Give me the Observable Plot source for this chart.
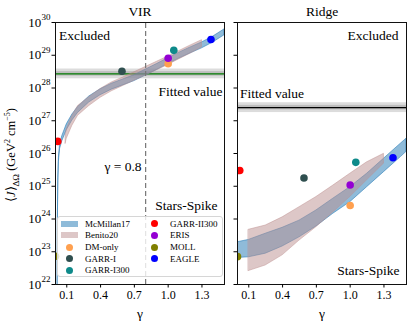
<!DOCTYPE html>
<html><head><meta charset="utf-8">
<script src="https://cdn.jsdelivr.net/npm/d3@7"></script>
<script src="https://cdn.jsdelivr.net/npm/@observablehq/plot@0.6"></script>
<style>
body{margin:0;background:#fff;overflow:hidden;}
#wrap{position:relative;width:413px;height:326px;font-family:"Liberation Serif",serif;color:#000;}
#wrap svg{position:absolute;top:0;font-family:"Liberation Serif",serif !important;}
#wrap svg text, #wrap svg g{font-family:"Liberation Serif",serif !important;}
.ylab{position:absolute;left:12px;top:155px;transform:translate(-50%,-50%) rotate(-90deg);white-space:nowrap;font-size:12.5px;}
.legend{position:absolute;left:57px;top:216px;width:166px;height:61px;border:1px solid #d6d6d6;border-radius:3px;background:rgba(255,255,255,0.8);font-size:9px;box-sizing:border-box;}
.legend .it{position:absolute;display:flex;align-items:center;height:10px;white-space:nowrap;}
.legend .patch{width:17px;height:6px;margin-right:7px;}
.legend .dot{width:7px;height:7px;border-radius:50%;margin:0 12px 0 5px;}
</style></head>
<body>
<div id="wrap"></div>
<script>
// ---------- data (log10 of <J> in GeV^2 cm^-5) ----------
const xDomain = [0, 1.5];
const yDomainExp = [22, 30];
const xTicks = [0.1, 0.4, 0.7, 1.0, 1.3];
const yTickExps = [22, 23, 24, 25, 26, 27, 28, 29, 30];
const panels = ["VIR", "Ridge"];

const fitVIR = 28.43, fitRidge = 27.40;
const fitInner = 0.07, fitOuter = 0.15;
const gammaCut = 0.8;

const bandNames = ["McMillan17", "Benito20"];
// VIR McMillan17
const mcmVIRgamma = [0.0175, 0.019, 0.021, 0.025, 0.03, 0.04, 0.06, 0.1, 0.15, 0.2, 0.3, 0.4, 0.5, 0.6, 0.7, 0.8, 0.9, 1.0, 1.1, 1.2, 1.3, 1.4, 1.5];
const mcmVIRmid   = [21.5, 22.3, 24.0, 25.2, 25.8, 26.2, 26.45, 26.8, 27.1, 27.33, 27.65, 27.87, 28.04, 28.17, 28.3, 28.47, 28.64, 28.82, 28.99, 29.15, 29.3, 29.48, 29.7];
const mcmVIRhalf  = [0.03, 0.03, 0.04, 0.05, 0.06, 0.07, 0.08, 0.09, 0.09, 0.09, 0.09, 0.09, 0.09, 0.09, 0.09, 0.09, 0.09, 0.09, 0.09, 0.09, 0.09, 0.09, 0.09];
// VIR Benito20
const benVIRgamma = [0.09, 0.1, 0.15, 0.2, 0.3, 0.4, 0.5, 0.6, 0.7, 0.8, 0.9, 1.0, 1.1, 1.2, 1.3];
const benVIRlo    = [26.3, 26.45, 26.85, 27.15, 27.45, 27.7, 27.9, 28.06, 28.22, 28.38, 28.54, 28.7, 28.88, 29.05, 29.24];
const benVIRhi    = [26.55, 26.75, 27.15, 27.45, 27.72, 27.97, 28.17, 28.32, 28.48, 28.64, 28.8, 28.96, 29.13, 29.3, 29.46];
// Ridge McMillan17
const mcmRidgeGamma = [0, 0.1, 0.25, 0.4, 0.55, 0.7, 0.85, 1.0, 1.15, 1.3, 1.45, 1.5];
const mcmRidgeLo    = [22.81, 22.83, 22.94, 23.16, 23.44, 23.77, 24.16, 24.51, 24.97, 25.43, 25.89, 26.05];
const mcmRidgeHi    = [23.29, 23.36, 23.55, 23.73, 23.95, 24.26, 24.62, 24.97, 25.38, 25.84, 26.3, 26.45];
// Ridge Benito20
const benRidgeGamma = [0.1, 0.25, 0.4, 0.55, 0.7, 0.85, 1.0, 1.15, 1.3];
const benRidgeLo    = [22.41, 22.58, 22.89, 23.34, 23.75, 24.2, 24.67, 25.18, 25.69];
const benRidgeHi    = [23.67, 23.8, 24.05, 24.36, 24.67, 25.02, 25.38, 25.73, 25.99];

// simulations
const simNames  = ["DM-only", "GARR-I", "GARR-I300", "GARR-II300", "ERIS", "MOLL", "EAGLE"];
const simGamma  = [1.0, 0.59, 1.05, 0.02, 1.0, 0.0, 1.38];
const simVIR    = [28.74, 28.51, 29.15, 26.37, 28.91, 22.86, 29.48];
const simRidge  = [24.41, 25.25, 25.73, 25.48, 25.04, 22.85, 25.87];

// ---------- styles ----------
const simColors = ["#ffa04f", "#2f4f4f", "#0e8a8a", "#ff0000", "#9400d3", "#808000", "#0000ff"];
const bandColors = ["#1f77b4", "#bc8f8f"];
const font = "Liberation Serif";

const pts = (vals) => simNames.map((n, i) => ({name: n, g: simGamma[i], v: 10 ** vals[i], c: simColors[i]}));
const band = (g, lo, hi) => g.map((x, i) => ({g: x, lo: 10 ** lo[i], hi: 10 ** hi[i]}));

function panel({title, width, mL, mR, bands, fit, fitColor, points, left}) {
  const T = (data, o) => Plot.text(data, {fontFamily: font, fontSize: 13.5, lineAnchor: "middle", ...o});
  const marks = [
    Plot.rect([fit], {x1: xDomain[0], x2: xDomain[1], y1: d => 10 ** (d - fitOuter), y2: d => 10 ** (d + fitOuter), fill: "#dcdcdc"}),
    Plot.rect([fit], {x1: xDomain[0], x2: xDomain[1], y1: d => 10 ** (d - fitInner), y2: d => 10 ** (d + fitInner), fill: "#bdbdbd"}),
    Plot.ruleY([fit], {y: d => 10 ** d, stroke: fitColor, strokeWidth: 1.4}),
    Plot.areaY(bands[0], {x: "g", y1: "lo", y2: "hi", fill: bandColors[0], fillOpacity: 0.5, stroke: bandColors[0], strokeOpacity: 0.55, strokeWidth: 1, clip: true}),
    Plot.areaY(bands[1], {x: "g", y1: "lo", y2: "hi", fill: bandColors[1], fillOpacity: 0.5, stroke: bandColors[1], strokeOpacity: 0.45, strokeWidth: 1, clip: true}),
  ];
  if (left) marks.push(Plot.ruleX([gammaCut], {x: d => d, y1: 10 ** yDomainExp[0], y2: 10 ** yDomainExp[1], stroke: "#777", strokeWidth: 1.2, strokeDasharray: "5,3"}));
  marks.push(Plot.dot(points, {x: "g", y: "v", fill: "c", r: 3.8, clip: true}));
  marks.push(Plot.frame({stroke: "#111", strokeWidth: 1}));
  marks.push(Plot.axisX({ticks: xTicks, tickFormat: ".1f", tickSize: 3.5, tickPadding: 2, label: null, fontSize: 12, fontFamily: font}));
  marks.push(Plot.axisY({ticks: yTickExps.map(e => 10 ** e), tickFormat: () => "", tickSize: 3.5, label: null}));
  if (left) {
    marks.push(T(yTickExps, {y: e => 10 ** e, text: () => "10", frameAnchor: "left", textAnchor: "end", dx: -14.3, fontSize: 13}));
    marks.push(T(yTickExps, {y: e => 10 ** e, text: e => String(e), frameAnchor: "left", textAnchor: "end", dx: -5, dy: -5.5, fontSize: 9}));
  }
  marks.push(T([title], {frameAnchor: "top", dy: -11}));
  marks.push(T(["γ"], {frameAnchor: "bottom", dy: 29}));
  if (left) {
    marks.push(T(["Excluded"], {frameAnchor: "top-left", textAnchor: "start", dx: 3.5, dy: 13}));
    marks.push(T([fit], {y: d => 10 ** d, text: () => "Fitted value", frameAnchor: "right", textAnchor: "end", dx: -2, dy: 18}));
    marks.push(T([gammaCut], {x: d => d, text: d => `γ = ${d}`, frameAnchor: "middle", textAnchor: "end", dx: -4, dy: 13}));
    marks.push(T(["Stars-Spike"], {frameAnchor: "bottom-right", textAnchor: "end", dx: -7, dy: -79}));
  } else {
    marks.push(T(["Excluded"], {frameAnchor: "top-right", textAnchor: "end", dx: -8, dy: 13}));
    marks.push(T([fit], {y: d => 10 ** d, text: () => "Fitted value", frameAnchor: "left", textAnchor: "start", dx: 2.5, dy: -14}));
    marks.push(T(["Stars-Spike"], {frameAnchor: "bottom-right", textAnchor: "end", dx: -7, dy: -14}));
  }
  return Plot.plot({
    width, height: 326, marginLeft: mL, marginRight: mR, marginTop: 22, marginBottom: 42,
    x: {domain: xDomain}, y: {type: "log", domain: yDomainExp.map(e => 10 ** e)},
    style: {fontFamily: "Liberation Serif", fontSize: "12px", color: "#000", background: "transparent", overflow: "visible"},
    marks
  });
}

const wrap = document.getElementById("wrap");
const left = panel({title: panels[0], width: 228, mL: 55, mR: 4,
  bands: [band(mcmVIRgamma, mcmVIRmid.map((m, i) => m - mcmVIRhalf[i]), mcmVIRmid.map((m, i) => m + mcmVIRhalf[i])), band(benVIRgamma, benVIRlo, benVIRhi)],
  fit: fitVIR, fitColor: "#007a00", points: pts(simVIR), left: true});
left.style.left = "0px";
const right = panel({title: panels[1], width: 185, mL: 9, mR: 7,
  bands: [band(mcmRidgeGamma, mcmRidgeLo, mcmRidgeHi), band(benRidgeGamma, benRidgeLo, benRidgeHi)],
  fit: fitRidge, fitColor: "#000", points: pts(simRidge), left: false});
right.style.left = "228px";
wrap.appendChild(left); wrap.appendChild(right);

// y label
const yl = document.createElement("div");
yl.className = "ylab";
yl.innerHTML = "⟨<i>J</i>⟩<sub style='font-size:9px'>ΔΩ</sub> (GeV<sup style='font-size:8px'>2</sup> cm<sup style='font-size:8px'>−5</sup>)";
wrap.appendChild(yl);

// legend (column-major, 2 columns)
const entries = [
  ...bandNames.map((n, i) => ({name: n, type: "patch", c: bandColors[i]})),
  ...simNames.map((n, i) => ({name: n, type: "dot", c: simColors[i]}))
];
const lg = document.createElement("div");
lg.className = "legend";
const perCol = Math.ceil(entries.length / 2);
entries.forEach((e, i) => {
  const col = Math.floor(i / perCol), row = i % perCol;
  const it = document.createElement("div");
  it.className = "it";
  it.style.left = (col === 0 ? 3 : 88) + "px";
  it.style.top = (1.7 + row * 11.65) + "px";
  const sw = document.createElement("div");
  sw.className = e.type; sw.style.background = e.c;
  if (e.type === "patch") sw.style.opacity = 0.5;
  it.appendChild(sw);
  const t = document.createElement("span"); t.textContent = e.name; it.appendChild(t);
  lg.appendChild(it);
});
wrap.appendChild(lg);
</script>
</body></html>
